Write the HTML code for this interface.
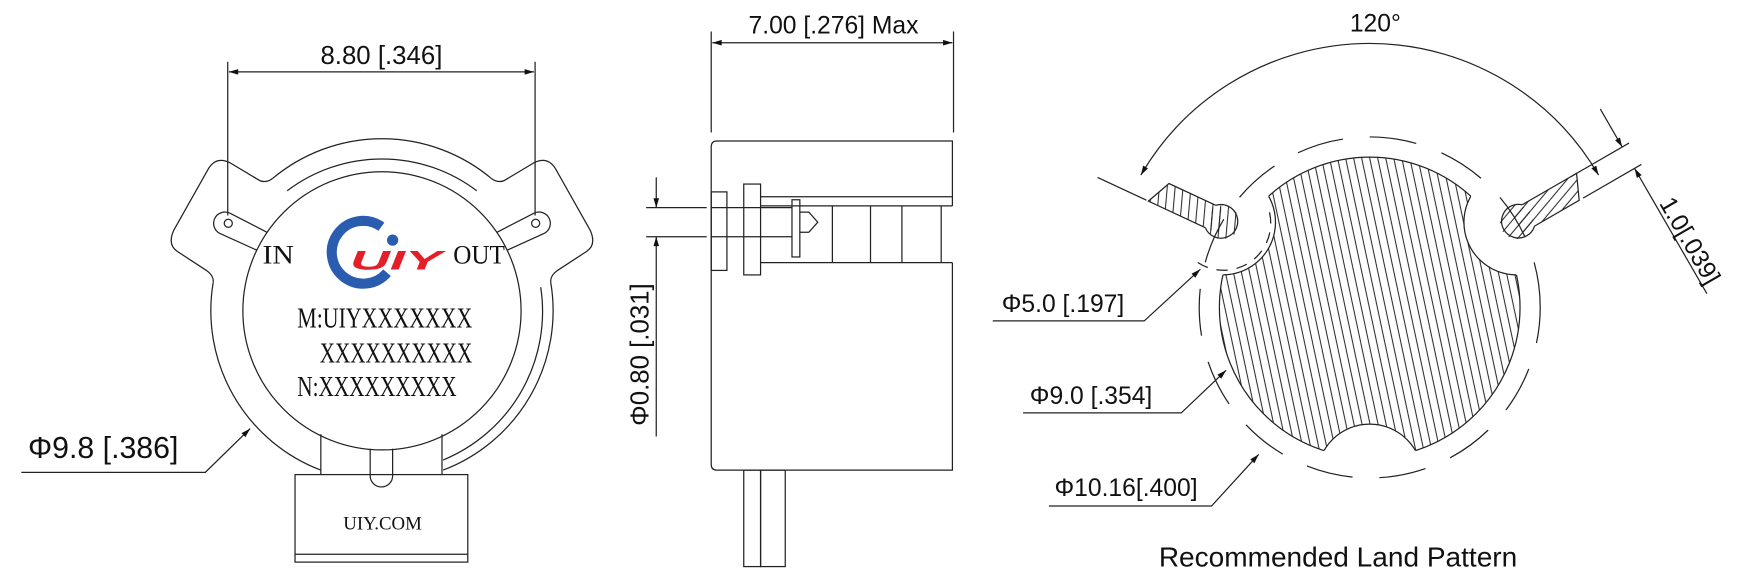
<!DOCTYPE html>
<html><head><meta charset="utf-8"><style>
html,body{margin:0;padding:0;background:#fff;}
svg{display:block;}
text{font-family:"Liberation Sans",sans-serif;fill:#111;}
.s{font-family:"Liberation Serif",serif;}
</style></head><body>
<svg width="1750" height="579" viewBox="0 0 1560 516" xmlns="http://www.w3.org/2000/svg">
<defs>
<marker id="ar" viewBox="0 0 10 6" refX="10" refY="3" markerWidth="12" markerHeight="5" orient="auto-start-reverse" markerUnits="userSpaceOnUse"><path d="M0,0 L10,3 L0,6z" fill="#111"/></marker>
<pattern id="h1" width="7" height="7" patternUnits="userSpaceOnUse" patternTransform="rotate(-12)"><line x1="3" y1="0" x2="3" y2="7" stroke="#222" stroke-width="0.9"/></pattern>
<pattern id="h2" width="7" height="7" patternUnits="userSpaceOnUse" patternTransform="rotate(-20)"><line x1="3" y1="0" x2="3" y2="7" stroke="#222" stroke-width="0.9"/></pattern>
<pattern id="h3" width="7" height="7" patternUnits="userSpaceOnUse" patternTransform="rotate(70)"><line x1="3" y1="0" x2="3" y2="7" stroke="#222" stroke-width="0.9"/></pattern>
<mask id="mn">
<rect x="0" y="0" width="1560" height="516" fill="#fff"/>
<circle cx="1090" cy="198" r="47" fill="#000"/>
<circle cx="1352" cy="198" r="47" fill="#000"/>
<circle cx="1221" cy="425" r="47" fill="#000"/>
</mask>
<clipPath id="cm"><circle cx="1221" cy="274" r="134"/></clipPath>
</defs>

<g fill="none" stroke="#222" stroke-width="1.1">
<line x1="203" y1="55" x2="203" y2="192"/>
<line x1="477" y1="55" x2="477" y2="192"/>
<line x1="204" y1="64" x2="476" y2="64" marker-start="url(#ar)" marker-end="url(#ar)"/>
<circle cx="340.5" cy="277" r="124"/>
<path d="M243,159 A152,152 0 0 1 438,159"/>
<path d="M256,170 A140,140 0 0 1 425,170"/>
<path d="M190,252 A152,152 0 0 0 286,419"/>
<path d="M491,252 A152,152 0 0 1 395,419"/>
<path d="M482,256 A143,143 0 0 1 395,410"/>
<path d="M243,159 Q236,164 230,160 L205,145 Q193,139 186,150 L155,205 Q149,218 158,224 L184,241 Q191,246 190,252"/>
<path d="M438,159 Q445,164 451,160 L476,145 Q488,139 495,150 L526,205 Q532,218 523,224 L497,241 Q490,246 491,252"/>
<path d="M205,190 L238,207 M196,208 L229,223"/>
<path d="M205,190 A9.5,9.5 0 0 0 196,208"/>
<circle cx="203.5" cy="199" r="3.6"/>
<path d="M476,190 L443,207 M485,208 L452,223"/>
<path d="M476,190 A9.5,9.5 0 0 1 485,208"/>
<circle cx="477.5" cy="199" r="3.6"/>
<line x1="286" y1="387" x2="286" y2="423"/>
<line x1="394" y1="387" x2="394" y2="423"/>
<path d="M330,400 L330,424 A10,10 0 0 0 350,424 L350,400"/>
<rect x="263" y="423" width="154" height="78"/>
<line x1="263" y1="494" x2="417" y2="494"/>
<polyline points="19,421 183,421 223,382" marker-end="url(#ar)"/>

<line x1="634" y1="28" x2="634" y2="118"/>
<line x1="850" y1="28" x2="850" y2="118"/>
<line x1="635" y1="38" x2="849" y2="38" marker-start="url(#ar)" marker-end="url(#ar)"/>
<path d="M849,183.5 L849,125.6 L639,125.6 Q634,125.6 634,131 L634,414 Q634,419 639,419 L849,419 L849,234"/>
<line x1="678" y1="175.3" x2="849" y2="175.3"/>
<line x1="678" y1="183.5" x2="849" y2="183.5"/>
<line x1="678" y1="234" x2="849" y2="234"/>
<line x1="742" y1="183.5" x2="742" y2="234"/>
<line x1="776" y1="183.5" x2="776" y2="234"/>
<line x1="804" y1="183.5" x2="804" y2="234"/>
<line x1="839" y1="183.5" x2="839" y2="234"/>
<rect x="634" y="171" width="14" height="70"/>
<rect x="663" y="164" width="15" height="81"/>
<line x1="634" y1="185" x2="706" y2="185"/>
<line x1="634" y1="211" x2="706" y2="211"/>
<rect x="706" y="178" width="7" height="51"/>
<path d="M713,189 L721,189 L729,198 L721,207 L713,207"/>
<rect x="663" y="419" width="15" height="86"/>
<rect x="678" y="419" width="22" height="86"/>
<line x1="576" y1="185" x2="630" y2="185"/>
<line x1="576" y1="211" x2="630" y2="211"/>
<line x1="585" y1="158" x2="585" y2="185" marker-end="url(#ar)"/>
<line x1="585" y1="389" x2="585" y2="211" marker-end="url(#ar)"/>

<circle cx="1221" cy="274" r="152" stroke-dasharray="42 24" stroke-dashoffset="10"/>
<circle cx="1221" cy="274" r="134" fill="url(#h1)" stroke="none" mask="url(#mn)"/>
<circle cx="1221" cy="274" r="134" mask="url(#mn)"/>
<g clip-path="url(#cm)">
<circle cx="1090" cy="198" r="47"/>
<circle cx="1352" cy="198" r="47"/>
<circle cx="1221" cy="425" r="47"/>
</g>
<g transform="translate(1090,198) rotate(205)">
<path d="M0,-11 L68,-11 L58,11 L0,11 Z" fill="url(#h2)" stroke="none"/>
<circle cx="0" cy="0" r="15" fill="url(#h2)" stroke="none"/>
<path d="M12,-11 L68,-11 L58,11 L12,11 M12,-11 A15,15 0 1 0 12,11"/>
<path d="M5,-42 A42,42 0 0 0 -30,30" stroke-dasharray="10 8"/>
<line x1="70" y1="-11" x2="118" y2="-11"/>
</g>
<g transform="translate(1352,198) rotate(-30)">
<path d="M0,-11 L68,-11 L58,11 L0,11 Z" fill="url(#h3)" stroke="none"/>
<circle cx="0" cy="0" r="15" fill="url(#h3)" stroke="none"/>
<path d="M12,-11 L68,-11 L58,11 L12,11 M12,-11 A15,15 0 1 0 12,11"/>
<line x1="62" y1="-11" x2="122" y2="-11"/>
<line x1="62" y1="11" x2="122" y2="11"/>
<line x1="115" y1="-50" x2="115" y2="-11" marker-end="url(#ar)"/>
<line x1="115" y1="140" x2="115" y2="11" marker-end="url(#ar)"/>
</g>
<path d="M1017,156 A236,236 0 0 1 1425,156" marker-start="url(#ar)" marker-end="url(#ar)"/>
<polyline points="885,286 1020,286 1070,240" marker-end="url(#ar)"/>
<polyline points="912,368 1053,368 1093,330" marker-end="url(#ar)"/>
<polyline points="935,451 1080,451 1122,405" marker-end="url(#ar)"/>
</g>

<path d="M340,202 A28,28 0 1 0 345,243" fill="none" stroke="#2a5db0" stroke-width="9"/>
<circle cx="350" cy="214" r="5" fill="#2a5db0"/>
<text x="312" y="240" font-size="24" font-weight="bold" font-style="italic" style="fill:#e3202a" textLength="82" lengthAdjust="spacingAndGlyphs">UIY</text>

<text x="340" y="57" font-size="23" text-anchor="middle">8.80 [.346]</text>
<text x="25" y="408" font-size="27">Φ9.8 [.386]</text>
<text class="s" x="234" y="235" font-size="24" textLength="28" lengthAdjust="spacingAndGlyphs">IN</text>
<text class="s" x="404" y="235" font-size="24" textLength="46" lengthAdjust="spacingAndGlyphs">OUT</text>
<text class="s" x="265" y="292" font-size="25" textLength="156" lengthAdjust="spacingAndGlyphs">M:UIYXXXXXXX</text>
<text class="s" x="285" y="323" font-size="25" textLength="136" lengthAdjust="spacingAndGlyphs">XXXXXXXXXX</text>
<text class="s" x="265" y="353" font-size="25" textLength="142" lengthAdjust="spacingAndGlyphs">N:XXXXXXXXX</text>
<text class="s" x="341" y="472" font-size="17" text-anchor="middle" textLength="70" lengthAdjust="spacingAndGlyphs">UIY.COM</text>

<text x="743" y="30" font-size="22" text-anchor="middle">7.00 [.276] Max</text>
<text x="0" y="0" font-size="23" text-anchor="middle" transform="translate(578,316) rotate(-90)">Φ0.80 [.031]</text>

<text x="1226" y="28" font-size="22" text-anchor="middle">120°</text>
<text x="0" y="0" font-size="22" text-anchor="middle" transform="translate(1500,218) rotate(60)">1.0[.039]</text>
<text x="893" y="278" font-size="22">Φ5.0 [.197]</text>
<text x="918" y="360" font-size="22">Φ9.0 [.354]</text>
<text x="940" y="442" font-size="22">Φ10.16[.400]</text>
<text x="1033" y="505" font-size="25">Recommended Land Pattern</text>
</svg>
</body></html>
